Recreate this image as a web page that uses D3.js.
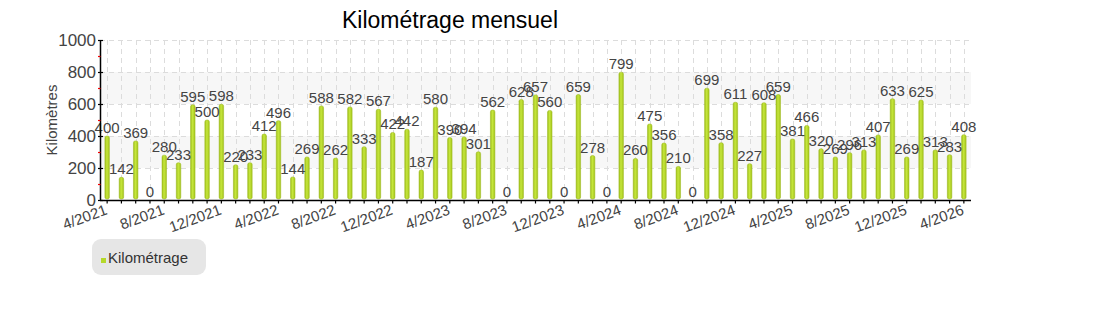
<!DOCTYPE html>
<html>
<head>
<meta charset="utf-8">
<script src="https://cdn.jsdelivr.net/npm/d3@7"></script>
<style>
  body { margin: 0; background: #fff; }
  svg text { font-family: "Liberation Sans", sans-serif; }
</style>
</head>
<body>
<svg id="chart" width="1100" height="320"></svg>
<script>
// mois (catégories)
var months = ["4/2021","5/2021","6/2021","7/2021","8/2021","9/2021","10/2021","11/2021","12/2021",
  "1/2022","2/2022","3/2022","4/2022","5/2022","6/2022","7/2022","8/2022","9/2022","10/2022","11/2022","12/2022",
  "1/2023","2/2023","3/2023","4/2023","5/2023","6/2023","7/2023","8/2023","9/2023","10/2023","11/2023","12/2023",
  "1/2024","2/2024","3/2024","4/2024","5/2024","6/2024","7/2024","8/2024","9/2024","10/2024","11/2024","12/2024",
  "1/2025","2/2025","3/2025","4/2025","5/2025","6/2025","7/2025","8/2025","9/2025","10/2025","11/2025","12/2025",
  "1/2026","2/2026","3/2026","4/2026"];
// kilomètres par mois
var km = [400,142,369,0,280,233,595,500,598,220,233,412,496,144,269,588,262,582,333,567,422,442,187,580,
  390,394,301,562,0,628,657,560,0,659,278,0,799,260,475,356,210,0,699,358,611,227,608,659,381,466,320,
  269,296,313,407,633,269,625,313,283,408];
var yTicks = [0,200,400,600,800,1000];
var yMinor = [100,300,500,700,900];
var bands = [[200,400],[600,800]];
var labelMonths = months.filter(function(d,i){ return i % 4 == 0; });

var svg = d3.select("#chart");
var pLeft = 100, pRight = 971, pTop = 40, pBottom = 200;

var x = d3.scaleBand().domain(months).range([pLeft, pRight]).paddingInner(0).paddingOuter(0);
var y = d3.scaleLinear().domain([0, 1000]).range([pBottom, pTop]);
var cx = function(d){ return x(d) + x.bandwidth()/2; };

// dégradé des barres
var defs = svg.append("defs");
var grad = defs.append("linearGradient").attr("id", "barGrad").attr("x1", "0").attr("x2", "1").attr("y1", "0").attr("y2", "0");
grad.append("stop").attr("offset", "0%").attr("stop-color", "#9fc01a");
grad.append("stop").attr("offset", "45%").attr("stop-color", "#c6e63c");
grad.append("stop").attr("offset", "100%").attr("stop-color", "#a3c41c");

// bandes de fond
svg.append("g").selectAll("rect").data(bands).enter().append("rect")
  .attr("x", pLeft).attr("width", pRight - pLeft)
  .attr("y", function(d){ return y(d[1]); })
  .attr("height", function(d){ return y(d[0]) - y(d[1]); })
  .attr("fill", "#f7f7f7");

// grille
var grid = svg.append("g").attr("stroke", "#dcdcdc").attr("stroke-dasharray", "5,4").attr("stroke-width", 1);
grid.selectAll("line.h").data(yTicks.slice(1)).enter().append("line")
  .attr("x1", pLeft).attr("x2", pRight)
  .attr("y1", function(d){ return Math.round(y(d)) + 0.5; })
  .attr("y2", function(d){ return Math.round(y(d)) + 0.5; });
grid.selectAll("line.v").data(months).enter().append("line")
  .attr("x1", function(d){ return Math.round(cx(d)) + 0.5; })
  .attr("x2", function(d){ return Math.round(cx(d)) + 0.5; })
  .attr("y1", pTop).attr("y2", pBottom);

// barres
var bw = 4.5;
svg.append("g").selectAll("rect").data(km).enter().append("rect")
  .attr("x", function(d,i){ return cx(months[i]) - bw/2; })
  .attr("width", bw)
  .attr("y", function(d){ return y(d); })
  .attr("height", function(d){ return Math.max(0, y(0) - y(d) - 1); })
  .attr("rx", 1.8)
  .attr("fill", "url(#barGrad)")
  .attr("stroke", "#9ab71a").attr("stroke-width", 0.5);

// valeurs
svg.append("g").selectAll("text").data(km).enter().append("text")
  .attr("x", function(d,i){ return cx(months[i]); })
  .attr("y", function(d){ return y(d) - 3; })
  .attr("text-anchor", "middle")
  .attr("font-size", 15)
  .attr("fill", "#444")
  .text(function(d){ return d; });

// axe Y
var yAxis = svg.append("g");
yAxis.append("line").attr("x1", pLeft + 0.5).attr("x2", pLeft + 0.5).attr("y1", pTop).attr("y2", pBottom)
  .attr("stroke", "#000").attr("stroke-width", 1.5);
yAxis.selectAll("line.maj").data(yTicks).enter().append("line")
  .attr("x1", pLeft - 2).attr("x2", pLeft + 3)
  .attr("y1", function(d){ return y(d) + 0.5; }).attr("y2", function(d){ return y(d) + 0.5; })
  .attr("stroke", "#000").attr("stroke-width", 1.2);
yAxis.selectAll("line.min").data(yMinor).enter().append("line")
  .attr("x1", pLeft - 2).attr("x2", pLeft + 0.5)
  .attr("y1", function(d){ return y(d) + 0.5; }).attr("y2", function(d){ return y(d) + 0.5; })
  .attr("stroke", "#e00").attr("stroke-width", 1.2);
yAxis.selectAll("text").data(yTicks).enter().append("text")
  .attr("x", pLeft - 4).attr("y", function(d){ return y(d) + 6; })
  .attr("text-anchor", "end")
  .attr("font-size", 17)
  .attr("fill", "#444")
  .text(function(d){ return d; });

svg.append("text")
  .attr("transform", "translate(57,120)rotate(-90)")
  .attr("text-anchor", "middle")
  .attr("font-size", 15)
  .attr("fill", "#444")
  .text("Kilomètres");

// axe X
var xAxis = svg.append("g");
xAxis.append("line").attr("x1", pLeft).attr("x2", pRight).attr("y1", pBottom + 0.5).attr("y2", pBottom + 0.5)
  .attr("stroke", "#000").attr("stroke-width", 1.5);
xAxis.selectAll("line.t").data(months).enter().append("line")
  .attr("x1", function(d){ return cx(d); }).attr("x2", function(d){ return cx(d); })
  .attr("y1", pBottom).attr("y2", pBottom + 3.5)
  .attr("stroke", "#000").attr("stroke-width", 1.2);
xAxis.selectAll("text").data(labelMonths).enter().append("text")
  .attr("transform", function(d){ return "translate(" + (cx(d) + 1) + "," + 214 + ")rotate(-20)"; })
  .attr("text-anchor", "end")
  .attr("font-size", 15)
  .attr("fill", "#444")
  .text(function(d){ return d; });

// titre
svg.append("text")
  .attr("x", 450).attr("y", 28)
  .attr("text-anchor", "middle")
  .attr("font-size", 23)
  .attr("fill", "#000")
  .text("Kilométrage mensuel");

// légende
var leg = svg.append("g");
leg.append("rect").attr("x", 92).attr("y", 239).attr("width", 114).attr("height", 36).attr("rx", 9)
  .attr("fill", "#e6e6e6");
leg.append("rect").attr("x", 101).attr("y", 258).attr("width", 5).attr("height", 5).attr("fill", "#b5d92a");
leg.append("text").attr("x", 108).attr("y", 263)
  .attr("font-size", 15).attr("fill", "#333")
  .text("Kilométrage");
</script>
</body>
</html>
